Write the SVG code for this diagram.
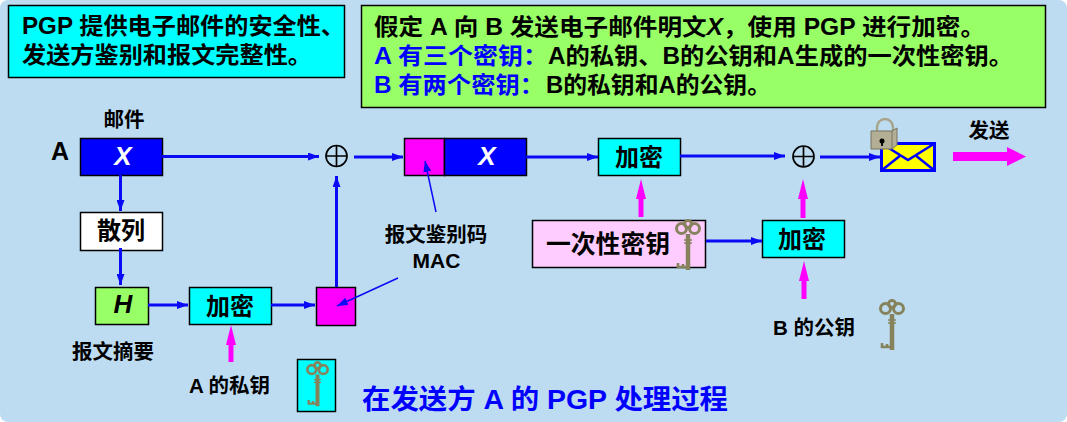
<svg xmlns="http://www.w3.org/2000/svg" width="1067" height="422" viewBox="0 0 1067 422">
<style>
text{font-family:"Liberation Sans","Noto Sans CJK SC",sans-serif;font-weight:700;fill:#000}
.box{stroke:#000;stroke-width:1.5}
.t24{font-size:24px;text-anchor:middle}
.t21{font-size:20.500px;text-anchor:middle}
.head{font-size:23px}
.line{stroke:#0a0af5;stroke-width:3;fill:none}
.thin{stroke:#0a0af5;stroke-width:1.500;fill:none}
.mag{stroke:#ff00ff;stroke-width:5;fill:none}
.xor{fill:none;stroke:#000;stroke-width:1.700}
</style>
<defs>
<marker id="ah" markerUnits="userSpaceOnUse" markerWidth="12" markerHeight="8" refX="11" refY="4" orient="auto"><path d="M0 0L11 4L0 8Z" fill="#0a0af5"/></marker>
<marker id="ahm" markerUnits="userSpaceOnUse" markerWidth="20" markerHeight="12" refX="0" refY="6" orient="auto"><path d="M0 1L20 6L0 11Z" fill="#ff00ff"/></marker>
<symbol id="key" viewBox="0 0 26 52" overflow="visible">
<g fill="none" stroke="#86835c" stroke-width="3">
<circle cx="6.500" cy="8.500" r="5"/><circle cx="19.500" cy="8.500" r="5"/><circle cx="13" cy="4" r="3.500"/>
<path d="M13 14V50" stroke-width="4.500"/><path d="M9 20H17M9 23H17" stroke-width="1.500"/>
<path d="M13 47H3V43M8 47V44" stroke-width="2.600"/>
</g>
</symbol>
</defs>
<rect width="1067" height="422" rx="8" fill="#bddcf2"/>

<g id="note-pgp"><rect class="box" x="8.500" y="5.500" width="336" height="72" fill="#00ffff"/>
<text class="head" x="22" y="34" textLength="323" lengthAdjust="spacingAndGlyphs">PGP 提供电子邮件的安全性、</text>
<text class="head" x="22" y="63" textLength="290" lengthAdjust="spacingAndGlyphs">发送方鉴别和报文完整性。</text></g>

<g id="note-keys"><rect class="box" x="361.500" y="5.500" width="684" height="102" fill="#99ff66"/>
<text class="head" x="374" y="35" textLength="611" lengthAdjust="spacingAndGlyphs">假定 A 向 B 发送电子邮件明文<tspan font-style="italic">X</tspan>，使用 PGP 进行加密。</text>
<text class="head" x="374" y="64" textLength="174" lengthAdjust="spacingAndGlyphs" style="fill:#00f">A 有三个密钥：</text>
<text class="head" x="548" y="64" textLength="465" lengthAdjust="spacingAndGlyphs">A的私钥、B的公钥和A生成的一次性密钥。</text>
<text class="head" x="374" y="93" textLength="170" lengthAdjust="spacingAndGlyphs" style="fill:#00f">B 有两个密钥：</text>
<text class="head" x="546" y="93" textLength="225" lengthAdjust="spacingAndGlyphs">B的私钥和A的公钥。</text></g>

<g id="label-a"><text x="60" y="160" font-size="25" text-anchor="middle">A</text></g>
<g id="label-mail"><text class="t21" x="124" y="127">邮件</text></g>
<g id="node-x"><rect class="box" x="80.500" y="138.500" width="82" height="37" fill="#0000ff"/>
<text x="123" y="165" font-size="26" font-style="italic" text-anchor="middle" style="fill:#fff">X</text></g>
<g id="node-hash"><rect class="box" x="80.500" y="212.500" width="82" height="38" fill="#fff"/><text class="t24" x="121" y="239">散列</text></g>
<g id="node-h"><rect class="box" x="95.500" y="287.500" width="53" height="37" fill="#99ff66"/>
<text x="123" y="313" font-size="26" font-style="italic" text-anchor="middle">H</text></g>
<g id="label-digest"><text class="t21" x="113" y="359">报文摘要</text></g>
<g id="node-enc1"><rect class="box" x="189.500" y="287.500" width="82" height="37" fill="#00ffff"/><text class="t24" x="230" y="315">加密</text></g>
<g id="label-apriv"><text class="t21" x="229.500" y="393">A 的私钥</text></g>
<g id="node-akey"><rect class="box" x="297.500" y="359.500" width="38" height="52" fill="#00ffff"/><use href="#key" x="305" y="362" width="25" height="46"/></g>
<g id="node-mac"><rect class="box" x="316.500" y="287.500" width="39" height="38" fill="#ff00ff"/></g>
<g id="xor1"><circle class="xor" cx="336.500" cy="156" r="10.500"/><path class="xor" d="M326 156H347M336.500 145.500V166.500"/></g>
<g id="node-macx"><rect class="box" x="404.500" y="138.500" width="40" height="37" fill="#ff00ff"/><rect class="box" x="444.500" y="138.500" width="82" height="37" fill="#0000ff"/>
<text x="487" y="165" font-size="26" font-style="italic" text-anchor="middle" style="fill:#fff">X</text></g>
<g id="label-mac"><text class="t21" x="436" y="242">报文鉴别码</text><text x="436.500" y="268" font-size="21" text-anchor="middle">MAC</text></g>
<g id="node-enc2"><rect class="box" x="598.500" y="138.500" width="82" height="37" fill="#00ffff"/><text class="t24" x="639" y="166">加密</text></g>
<g id="node-otk"><rect class="box" x="532.500" y="220.500" width="173" height="47" fill="#ffccff"/>
<text x="546" y="253" font-size="25" textLength="124" lengthAdjust="spacingAndGlyphs">一次性密钥</text>
<use href="#key" x="675" y="220" width="26" height="52"/></g>
<g id="node-enc3"><rect class="box" x="762.500" y="220.500" width="82" height="37" fill="#00ffff"/><text class="t24" x="802" y="248">加密</text></g>
<g id="xor2"><circle class="xor" cx="803.500" cy="156.500" r="10.500"/><path class="xor" d="M793 156.500H814M803.500 146V167"/></g>
<g id="label-bpub"><text class="t21" x="814" y="335">B 的公钥</text></g>
<g id="node-bkey"><use href="#key" x="879" y="300" width="26" height="52"/></g>
<g id="node-envelope"><rect x="881.500" y="143.500" width="53" height="27" fill="#ffff00" stroke="#0000ff" stroke-width="3"/>
<path d="M881.500 170.500L901 155M934.500 170.500L915 155M881.500 143.500L908 160L934.500 143.500" fill="none" stroke="#0000ff" stroke-width="2.500"/>
<path d="M877 131V127a8 8 0 0 1 16 0V131" fill="none" stroke="#a8a48a" stroke-width="2.500"/>
<path d="M871 131H892L897 128V145L892 149H871Z" fill="#b3af95" stroke="#77735f"/>
<path d="M892 131V149" stroke="#77735f"/><circle cx="882" cy="141" r="2.500" fill="#000"/><path d="M882 141V146" stroke="#000" stroke-width="1.800"/></g>
<g id="label-send"><text class="t21" x="989" y="138">发送</text></g>
<g id="title"><text x="362" y="409" font-size="27" textLength="366" lengthAdjust="spacingAndGlyphs" style="fill:#0000ff">在发送方 A 的 PGP 处理过程</text></g>

<g id="connectors">
<path class="line" d="M162 156.500H319" marker-end="url(#ah)"/>
<path class="line" d="M120.500 175V211" marker-end="url(#ah)"/>
<path class="line" d="M120.500 248V285" marker-end="url(#ah)"/>
<path class="line" d="M148 305H188" marker-end="url(#ah)"/>
<path class="line" d="M271 305H315" marker-end="url(#ah)"/>
<path class="line" d="M336.500 287V176" marker-end="url(#ah)"/>
<path class="line" d="M354 157H403" marker-end="url(#ah)"/>
<path class="line" d="M526 157H598" marker-end="url(#ah)"/>
<path class="line" d="M680 156H785" marker-end="url(#ah)"/>
<path class="line" d="M820 157H880" marker-end="url(#ah)"/>
<path class="line" d="M706 241H762" marker-end="url(#ah)"/>
<path class="thin" d="M436 212L425 161" marker-end="url(#ah)"/>
<path class="thin" d="M398 278L337 306" marker-end="url(#ah)"/>
<path class="mag" d="M231 362V345" marker-end="url(#ahm)"/>
<path class="mag" d="M641 217V199" marker-end="url(#ahm)"/>
<path class="mag" d="M804 299V281" marker-end="url(#ahm)"/>
<path class="mag" d="M803 218V199" marker-end="url(#ahm)"/>
<path d="M953 152H1007V147L1026 156.500L1007 166V161H953Z" fill="#ff00ff"/>
</g>
</svg>
